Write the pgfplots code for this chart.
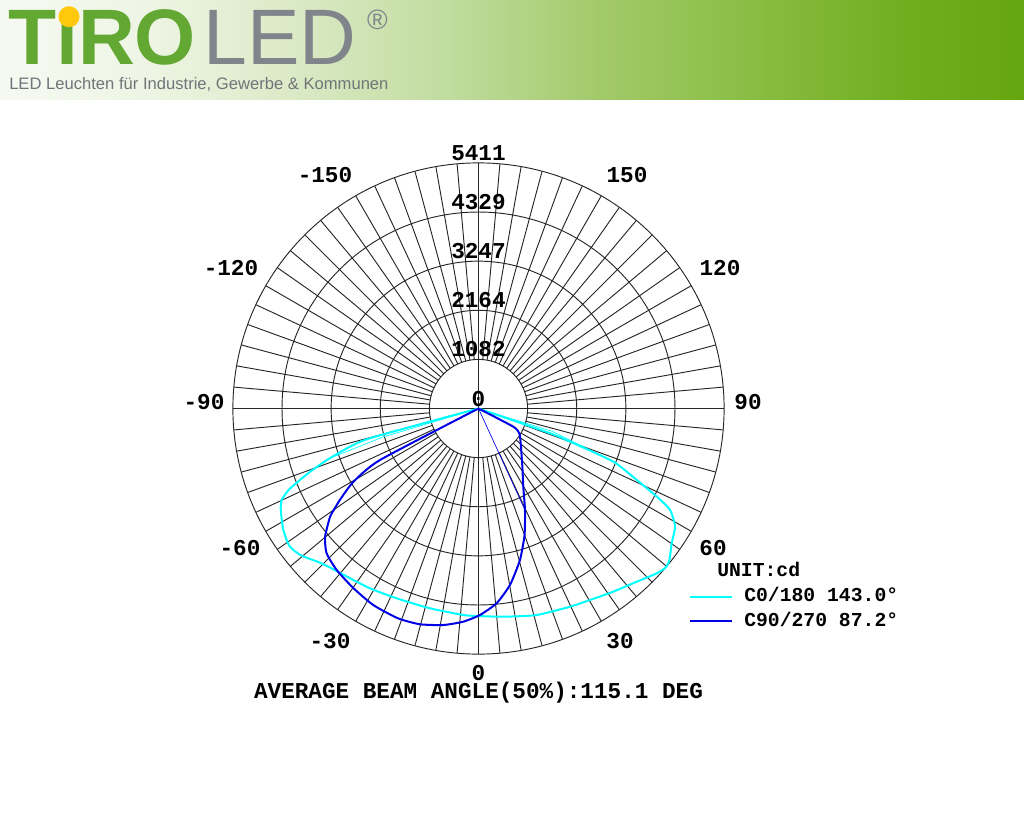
\documentclass[border=0pt]{standalone}
\usepackage{pgfplots}
\usepackage{pgfplotstable}
\pgfplotsset{compat=1.18}
\usepgfplotslibrary{polar}
\usetikzlibrary{calc}
\usepackage{fontspec}
\setmainfont{Liberation Sans}
\newfontfamily\mono{Liberation Mono}

\definecolor{tgreen}{RGB}{98,168,50}
\definecolor{tgrey}{RGB}{128,133,140}
\definecolor{sgrey}{RGB}{112,117,122}
\definecolor{tyellow}{RGB}{255,200,10}
\definecolor{cyanC}{RGB}{0,255,255}
\definecolor{blueC}{RGB}{0,0,230}
\definecolor{h0}{RGB}{246,249,242}
\definecolor{h1}{RGB}{238,245,228}
\definecolor{h2}{RGB}{218,233,197}
\definecolor{h3}{RGB}{192,220,158}
\definecolor{h4}{RGB}{162,202,105}
\definecolor{h5}{RGB}{138,189,68}
\definecolor{h6}{RGB}{113,174,32}
\definecolor{h7}{RGB}{100,166,15}
\pgfdeclarehorizontalshading{header}{100bp}{color(0bp)=(h0); color(25bp)=(h0);
  color(32.3bp)=(h1); color(39.6bp)=(h2); color(47bp)=(h3); color(54.3bp)=(h4);
  color(61.6bp)=(h5); color(68.9bp)=(h6); color(75bp)=(h7); color(100bp)=(h7)}

% luminous intensity (cd) against gamma angle; 0 = straight down
\pgfplotstableread{
c r
-90 0
-74.6 2555
-71.5 3451
-69.4 3965
-67.0 4510
-65.1 4781
-62.8 4898
-58.1 5065
-54.0 5150
-50.5 5080
-46.0 4880
-42.5 4780
-39.1 4720
-31.1 4627
-23.3 4554
-13.7 4530
-4.2 4562
0 4572
6.8 4620
15.7 4727
24.8 4810
30.2 4882
36.4 5011
42.4 5168
47.2 5348
49.7 5411
51.6 5368
55.1 5190
59.0 5052
62.1 4775
63.7 4381
65.7 3825
68.5 3193
70.1 2144
70.9 1667
90 0
}\planeA

\pgfplotstableread{
c r
-90 0
-62.4 2448
-59.6 3200
-56.6 3657
-54.9 3903
-53.9 4048
-50.1 4406
-46.4 4622
-41.3 4735
-34.9 4822
-28.2 4911
-21.0 4951
-15.2 4926
-9.2 4832
-4.1 4709
0.4 4550
5.3 4310
10.1 3950
15.3 3461
20.0 2966
24.6 2460
29.8 1986
37.0 1605
50.5 1205
58.7 1052
62.4 865
90 0
}\planeB

\tikzset{gl/.style={line width=0.7pt, draw=black!85}}
\newcommand\lbl{\fontsize{17}{20}\selectfont\mono\bfseries}
\newcommand\lgd{\fontsize{14.8}{18}\selectfont\mono\bfseries}

\begin{document}
\begin{tikzpicture}
\begin{polaraxis}[
  scale only axis, width=368.4pt, height=368.4pt,
  ymin=0, ymax=5411,
  hide axis, clip=false, no markers,
]
  % spokes every 5 degrees outside the first ring
  \pgfplotsinvokeforeach{0,5,...,355}{\draw[gl] (axis cs:#1,1082.2) -- (axis cs:#1,5411);}
  \draw[gl] (axis cs:0,5411) -- (axis cs:180,5411);
  \draw[gl] (axis cs:90,5411) -- (axis cs:270,5411);
  \pgfplotsinvokeforeach{1082.2,2164.4,3246.6,4328.8,5411}{
    \draw[gl] let \p1=(axis cs:0,0), \p2=(axis cs:90,#1),
      \n1={veclen(\x2-\x1,\y2-\y1)} in (\p1) circle[radius=\n1];}
  % C0/180
  \addplot[cyanC, line width=0.5pt] table[x expr=\thisrow{c}-90, y=r] {
c r
-73.4 0
-73.4 2200
-71.5 3451
};
  \addplot[cyanC, line width=0.5pt] table[x expr=\thisrow{c}-90, y=r] {
c r
72.8 0
72.8 1700
68.5 3193
};
  \addplot[cyanC, line width=1.5pt, line join=round, smooth, tension=0.35]
    table[x expr=\thisrow{c}-90, y=r] {\planeA};
  % C90/270
  \addplot[blueC, line width=0.5pt] table[x expr=\thisrow{c}-90, y=r] {
c r
24.6 0
24.6 2460
};
  \addplot[blueC, line width=1.5pt, line join=round, smooth, tension=0.35]
    table[x expr=\thisrow{c}-90, y=r] {\planeB};
  \coordinate (C) at (axis cs:0,0);
\end{polaraxis}

\begin{scope}[shift={(C)}, x=0.75pt, y=-0.75pt]
\begin{scope}[shift={(-478.5,-408.5)}]
  \path (0,0) rectangle (1024,833);
  % banner
  \shade[shading=header] (0,0) rectangle (1024,100);
  \node[anchor=base west, inner sep=0, text=tgreen,
        font=\fontsize{59}{60}\selectfont\bfseries] (tiro) at (8,65) {TıRO};
  \node[anchor=base west, inner sep=0, text=tgrey,
        font=\fontsize{59}{60}\selectfont] at ([xshift=5pt]tiro.base east) {LED};
  \fill[tyellow] (69,16.7) circle[radius=7.9pt];
  \node[text=tgrey, inner sep=0, font=\fontsize{21}{22}\selectfont] at (377.5,20) {®};
  \node[anchor=base west, inner sep=0, text=sgrey, font=\fontsize{12.45}{14}\selectfont]
        at (9,89.3) {LED Leuchten für Industrie, Gewerbe \& Kommunen};

  % radial scale
  \foreach \v/\y in {5411/160.4, 4329/209.5, 3247/258.6, 2164/307.8, 1082/356.9, 0/406}
    \node[anchor=base, inner sep=0, font=\lbl] at (478.5,\y) {\v};
  % angle labels
  \foreach \t/\x/\y in {0/478.5/673, -30/330/641, 30/620/641, -60/240/548, 60/713/548,
                        -90/204/402, 90/748/402, -120/231/268, 120/720/268,
                        -150/325/175, 150/627/175}
    \node[inner sep=0, font=\lbl] at (\x,\y) {\t};

  % legend
  \node[anchor=base west, inner sep=0, font=\lgd] at (717,576) {UNIT:cd};
  \draw[cyanC, line width=1.5pt] (690,596.7) -- (732,596.7);
  \node[anchor=base west, inner sep=0, font=\lgd] at (744,601.7) {C0/180 143.0°};
  \draw[blueC, line width=1.5pt] (690,621) -- (732,621);
  \node[anchor=base west, inner sep=0, font=\lgd] at (744,626) {C90/270 87.2°};

  \node[anchor=base, inner sep=0, font=\lbl] at (478.5,698.8) {AVERAGE BEAM ANGLE(50\%):115.1 DEG};
\end{scope}
\end{scope}
\end{tikzpicture}
\end{document}
